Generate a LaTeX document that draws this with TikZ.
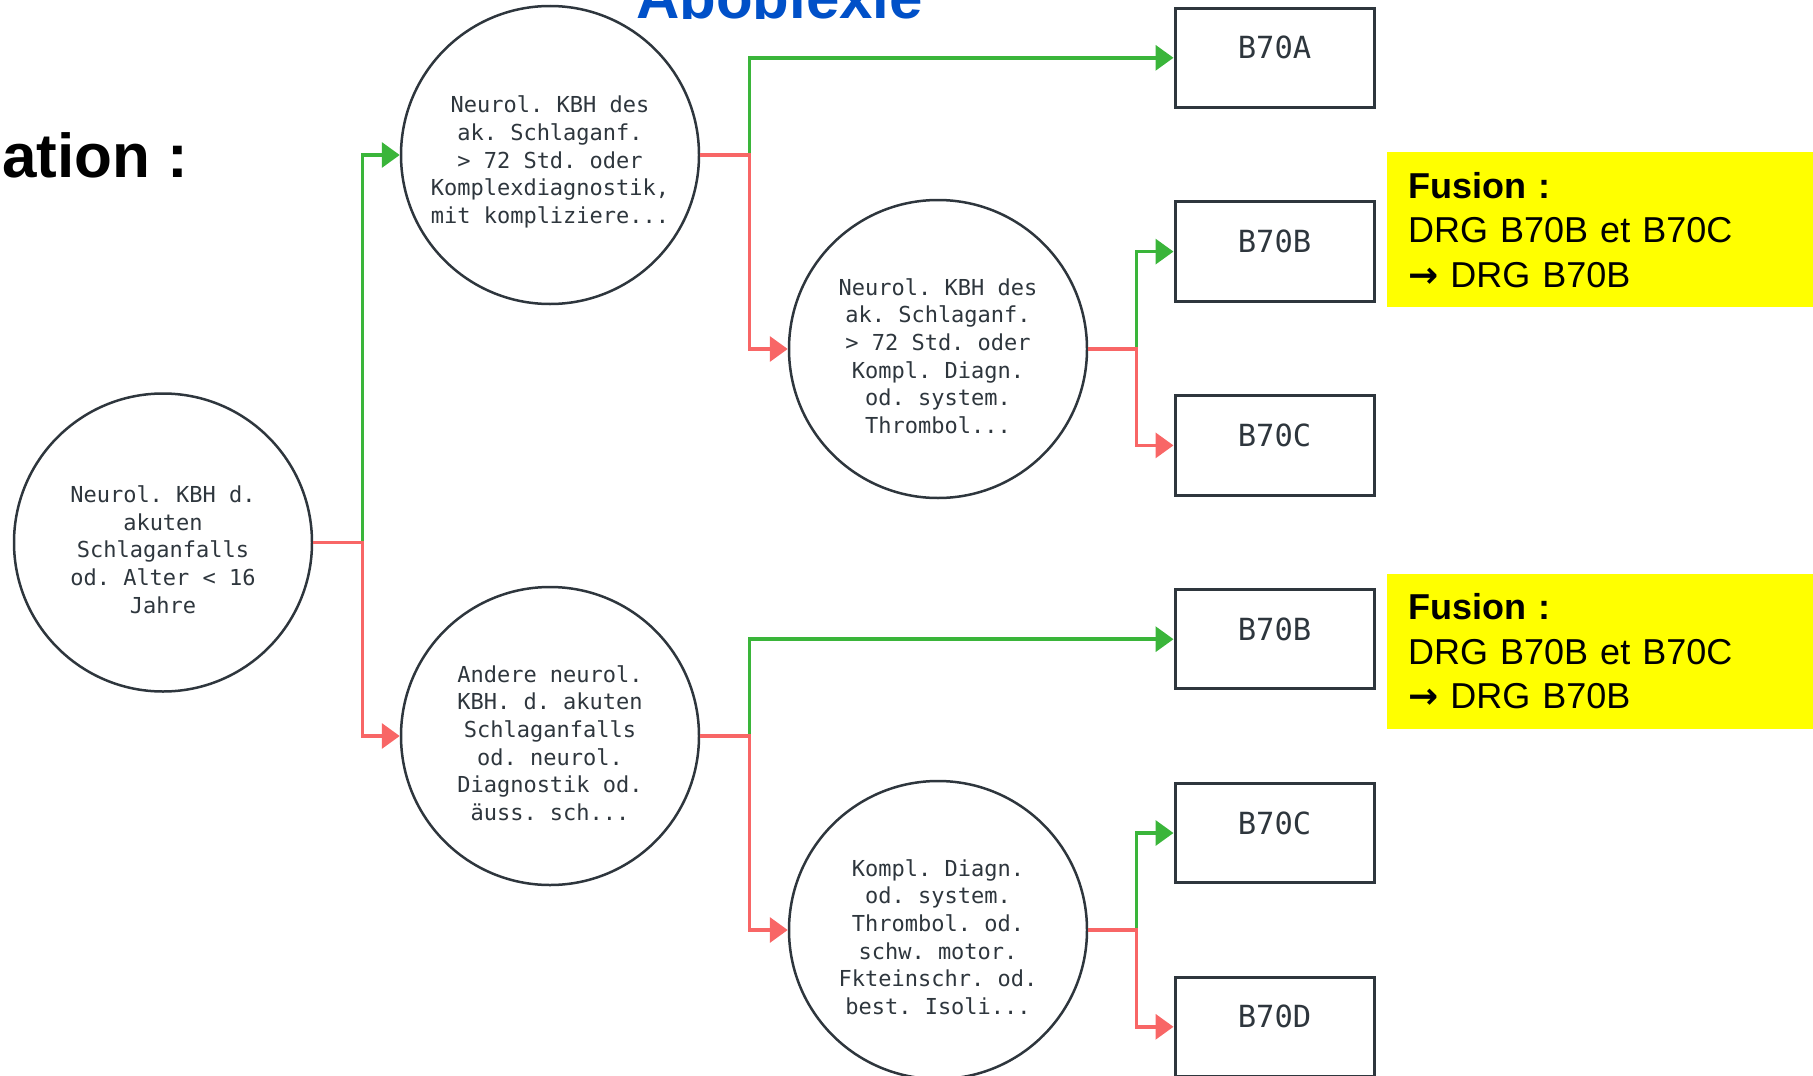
\documentclass[tikz,border=0pt]{standalone}
\usepackage{fontspec}
\setmainfont{Liberation Sans}
\setmonofont{DejaVu Sans Mono}
\newfontfamily\pfeilfont{DejaVu Sans}
\usetikzlibrary{arrows.meta}
\definecolor{gruen}{HTML}{3AB53A}
\definecolor{rot}{HTML}{F86666}
\definecolor{rand}{HTML}{2E363D}
\definecolor{titelblau}{HTML}{0050C8}
\definecolor{gelb}{RGB}{255,255,0}
\newcommand{\kopfraum}{\rule{0pt}{31pt}}

\begin{document}
\begin{tikzpicture}[x=1pt,y=-1pt,>={Triangle[length=18pt,width=25pt]},
  crit/.style={circle,draw=rand,line width=2.5pt,minimum size=298pt,inner sep=0pt,align=center,text=rand,font=\fontsize{22}{27.7}\selectfont\ttfamily},
  drg/.style={draw=rand,line width=3pt,minimum width=199pt,minimum height=99.5pt,text=rand,text height=22pt,text depth=20pt,font=\fontsize{30.5}{36}\selectfont\ttfamily},
  fusion/.style={fill=gelb,anchor=north west,text width=409pt,minimum height=155pt,inner xsep=21pt,inner ysep=0pt,align=left,font=\fontsize{36}{44.5}\selectfont},
  ja/.style={->,gruen,line width=3.5pt},
  nein/.style={->,rot,line width=3.5pt}]
\useasboundingbox (0,0) rectangle (1813,1076);

% title, cut at the top edge
\begin{scope}
\clip (0,0) rectangle (1813,18);
\node[anchor=base west,inner sep=0pt,text=titelblau,font=\fontsize{60}{72}\selectfont\bfseries] (titel) at (636,18) {Apoplexie};
\end{scope}
\node[anchor=base west,inner sep=0pt,font=\fontsize{62}{74}\selectfont\bfseries] (rubrik) at (2,177) {ation :};

% decision nodes
\node[crit] (root) at (163,542.5) {\kopfraum Neurol. KBH d.\\akuten\\Schlaganfalls\\od. Alter < 16\\Jahre};
\node[crit] (c1) at (550,155) {\kopfraum Neurol. KBH des\\ak. Schlaganf.\\> 72 Std. oder\\Komplexdiagnostik,\\mit kompliziere...};
\node[crit] (c2) at (550,736) {\kopfraum Andere neurol.\\KBH. d. akuten\\Schlaganfalls\\od. neurol.\\Diagnostik od.\\äuss. sch...};
\node[crit] (c3) at (938,349) {\kopfraum Neurol. KBH des\\ak. Schlaganf.\\> 72 Std. oder\\Kompl. Diagn.\\od. system.\\Thrombol...};
\node[crit] (c4) at (938,930) {\kopfraum Kompl. Diagn.\\od. system.\\Thrombol. od.\\schw. motor.\\Fkteinschr. od.\\best. Isoli...};

% DRG leaves
\foreach \t [count=\i from 0] in {B70A,B70B,B70C,B70B,B70C,B70D}
  \node[drg] (b\i) at (1274.5,57.8+193.8*\i) {\t};

% yes / no branches
\draw[ja] (root.east) -- ++(49,0) |- (c1.west);
\draw[nein] (root.east) -- ++(49,0) |- (c2.west);
\draw[ja] (c1.east) -- ++(49,0) |- (b0.west);
\draw[nein] (c1.east) -- ++(49,0) |- (c3.west);
\draw[ja] (c3.east) -- ++(48,0) |- (b1.west);
\draw[nein] (c3.east) -- ++(48,0) |- (b2.west);
\draw[ja] (c2.east) -- ++(49,0) |- (b3.west);
\draw[nein] (c2.east) -- ++(49,0) |- (c4.west);
\draw[ja] (c4.east) -- ++(48,0) |- (b4.west);
\draw[nein] (c4.east) -- ++(48,0) |- (b5.west);

% notes
\node[fusion] (fus1) at (1387,152) {\textbf{Fusion :}\\DRG B70B et B70C\\{\pfeilfont\bfseries →} DRG B70B};
\node[fusion] (fus2) at (1387,573.5) {\textbf{Fusion :}\\DRG B70B et B70C\\{\pfeilfont\bfseries →} DRG B70B};
\end{tikzpicture}
\end{document}
